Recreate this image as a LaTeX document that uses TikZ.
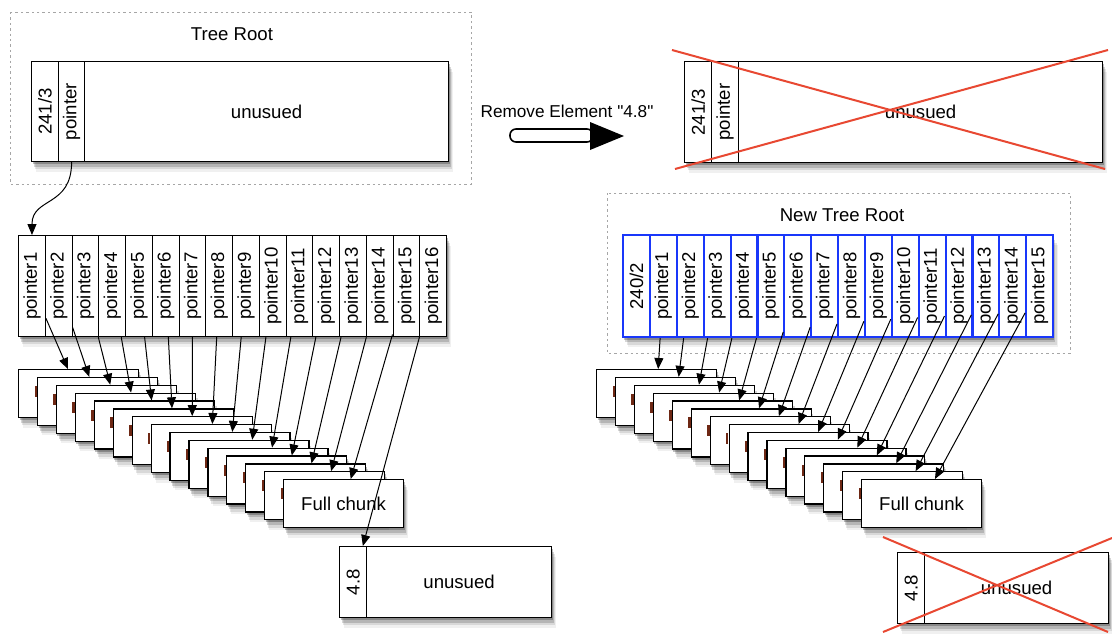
\documentclass[tikz,border=0pt]{standalone}
\usepackage{fontspec}
\setmainfont{Liberation Sans}[Ligatures=TeXOff]
\usepackage{graphicx}
\usetikzlibrary{arrows.meta,shadows}
\definecolor{xred}{RGB}{232,72,50}
\definecolor{nblue}{RGB}{25,55,250}
\definecolor{markc}{RGB}{110,40,20}
\tikzset{
  shad/.style={
    drop shadow={shadow xshift=0.5pt,shadow yshift=-1.3pt,opacity=0.25,fill=black},
    drop shadow={shadow xshift=1.1pt,shadow yshift=-2.6pt,opacity=0.16,fill=black},
    drop shadow={shadow xshift=1.7pt,shadow yshift=-3.9pt,opacity=0.10,fill=black},
    drop shadow={shadow xshift=2.3pt,shadow yshift=-5.0pt,opacity=0.06,fill=black}},
  cell/.style={draw=black,line width=0.6pt,fill=white,inner sep=0pt,anchor=north west},
  bcell/.style={draw=nblue,line width=1.1pt,fill=white,inner sep=0pt,anchor=north west},
  chunkbox/.style={cell,shad,minimum width=60pt,minimum height=24pt},
  dbox/.style={draw=gray!70,dash pattern=on 1.2pt off 1.5pt,line width=0.5pt},
  arr/.style={-{Triangle[length=5.5pt,width=4.5pt]},line width=0.5pt},
  xline/.style={draw=xred,line width=1pt},
  lbl/.style={inner sep=0pt}
}
\begin{document}
\begin{tikzpicture}[x=0.5pt,y=-0.5pt,font=\fontsize{9.3}{11}\selectfont]
\useasboundingbox (0,0) rectangle (1112,633);

% ---------- left: Tree Root ----------
\draw[dbox] (10,12) rectangle (471,184);
\node[lbl] (ttl) at (232,34) {Tree Root};
\node[cell,shad,minimum width=208.5pt,minimum height=50pt] (lroot) at (31,61) {};
\node[cell,minimum width=13.5pt,minimum height=50pt] (lr1) at (31,61) {\rotatebox{90}{241/3}};
\node[cell,minimum width=13pt,minimum height=50pt] (lr2) at (58,61) {\rotatebox{90}{pointer}};
\node[cell,minimum width=182pt,minimum height=50pt] (lr3) at (84,61) {unusued};

% pointer array left
\node[cell,shad,minimum width=214pt,minimum height=50.5pt] (larr) at (18,235) {};
\foreach \k in {1,...,16}{
  \pgfmathsetmacro\xx{18+26.75*(\k-1)}
  \node[cell,minimum width=13.375pt,minimum height=50.5pt] (lp\k) at (\xx,235) {\rotatebox{90}{pointer\k}};
}
\draw[arr] (lr2.south) .. controls +(0,45) and +(0,-38) .. (lp1.north);

% chunks left
\foreach \k in {1,...,14}{
  \pgfmathsetmacro\cx{18+18.93*(\k-1)}
  \pgfmathsetmacro\cy{369+7.86*(\k-1)}
  \node[chunkbox] (lc\k) at (\cx,\cy) {};
  \fill[markc] (\cx+16.5,\cy+17) rectangle (\cx+18.9,\cy+28);
}
\node[chunkbox] (lc15) at (283,479) {Full chunk};

% 4.8 box left
\node[cell,shad,minimum width=106pt,minimum height=35.5pt] (l48) at (339,546) {};
\node[cell,minimum width=13.5pt,minimum height=35.5pt] (l48a) at (339,546) {\rotatebox{90}{4.8}};
\node[cell,minimum width=92.5pt,minimum height=35.5pt] (l48b) at (366,546) {unusued};

\foreach \k in {1,...,15}{\draw[arr] (lp\k) -- (lc\k);}
\draw[arr] (lp16) -- (l48a);

% ---------- middle: operation ----------
\node[lbl,font=\fontsize{8.6}{10}\selectfont] (rmtxt) at (567,111) {Remove Element "4.8"};
\draw[line width=0.8pt,fill=white,rounded corners=3pt] (510,129) rectangle (593,142);
\fill (590,122) -- (624,136) -- (590,150) -- cycle;

% ---------- right: old root crossed ----------
\node[cell,shad,minimum width=209pt,minimum height=50.5pt] (rroot) at (684,61) {};
\node[cell,minimum width=13.5pt,minimum height=50.5pt] (rr1) at (684,61) {\rotatebox{90}{241/3}};
\node[cell,minimum width=13.5pt,minimum height=50.5pt] (rr2) at (711,61) {\rotatebox{90}{pointer}};
\node[cell,minimum width=182pt,minimum height=50.5pt] (rr3) at (738,61) {unusued};
\draw[xline] (672,50) -- (1105,169);
\draw[xline] (675,169) -- (1108,50);

% ---------- right: New Tree Root ----------
\draw[dbox] (607,193) rectangle (1070,353);
\node[lbl] (nttl) at (842,215) {New Tree Root};
\node[bcell,shad,minimum width=215pt,minimum height=51pt] (narr) at (622,234) {};
\node[bcell,minimum width=13.4375pt,minimum height=51pt] (rp0) at (622,234) {\rotatebox{90}{240/2}};
\foreach \k in {1,...,15}{
  \pgfmathsetmacro\xx{622+26.875*\k}
  \node[bcell,minimum width=13.4375pt,minimum height=51pt] (rp\k) at (\xx,234) {\rotatebox{90}{pointer\k}};
}

% chunks right
\foreach \k in {1,...,14}{
  \pgfmathsetmacro\cx{596+18.93*(\k-1)}
  \pgfmathsetmacro\cy{369+7.86*(\k-1)}
  \node[chunkbox] (rc\k) at (\cx,\cy) {};
  \fill[markc] (\cx+16.5,\cy+17) rectangle (\cx+18.9,\cy+28);
}
\node[chunkbox] (rc15) at (861,479) {Full chunk};
\foreach \k in {1,...,15}{\draw[arr] (rp\k) -- (rc\k);}

% 4.8 box right crossed
\node[cell,shad,minimum width=105.5pt,minimum height=35.5pt] (r48) at (897,552) {};
\node[cell,minimum width=13.5pt,minimum height=35.5pt] (r48a) at (897,552) {\rotatebox{90}{4.8}};
\node[cell,minimum width=92pt,minimum height=35.5pt] (r48b) at (924,552) {unusued};
\draw[xline] (883,537) -- (1108,632);
\draw[xline] (883,632) -- (1112,538);
\end{tikzpicture}
\end{document}
